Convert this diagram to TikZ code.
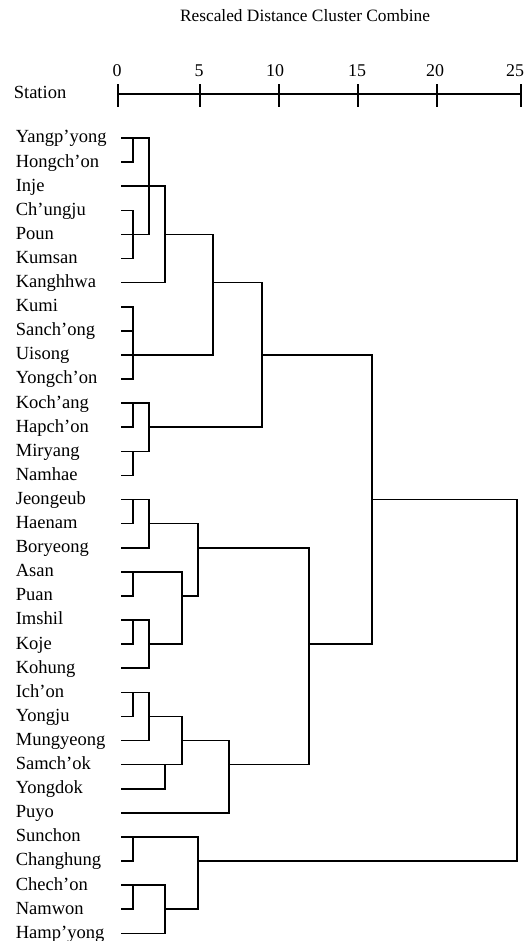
\documentclass[tikz,border=0pt]{standalone}
\usepackage{fontspec}
\setmainfont{Liberation Serif}

\tikzset{
    leaf/.style={anchor=west, inner sep=0pt, text height=7pt, text depth=2pt,
        font=\fontsize{9.3}{11}\selectfont},
    num/.style={inner sep=0pt, font=\fontsize{9}{11}\selectfont},
    heading/.style={inner sep=0pt, font=\fontsize{8.7}{10}\selectfont}
}

\begin{document}
\begin{tikzpicture}[x=0.5bp, y=-0.5bp, line width=0.8pt]
        \useasboundingbox (0,0) rectangle (525,941);
        \node[heading] (caption) at (305,16) {Rescaled Distance Cluster Combine};
        \node[leaf] (station) at (13,94) {Station};
        \coordinate (a0) at (118,94);
        \coordinate (a25) at (521,94);
        \draw (a0) -- (a25);
        \foreach \x/\lab in {118/0, 200/5, 279/10, 358/15, 437/20, 521/25}
            \draw (\x,84) -- (\x,107);
        \foreach \x/\lab in {117/0, 199/5, 275/10, 357/15, 435/20, 515/25}
            \node[num] (n\lab) at (\x,71) {\lab};
        \node[leaf] (yangpyong) at (15,138) {Yangp'yong};
        \node[leaf] (hongchon) at (15,162.1) {Hongch'on};
        \node[leaf] (inje) at (15,186.2) {Inje};
        \node[leaf] (chungju) at (15,210.3) {Ch'ungju};
        \node[leaf] (poun) at (15,234.4) {Poun};
        \node[leaf] (kumsan) at (15,258.5) {Kumsan};
        \node[leaf] (kanghhwa) at (15,282.6) {Kanghhwa};
        \node[leaf] (kumi) at (15,306.7) {Kumi};
        \node[leaf] (sanchong) at (15,330.8) {Sanch'ong};
        \node[leaf] (uisong) at (15,354.9) {Uisong};
        \node[leaf] (yongchon) at (15,379) {Yongch'on};
        \node[leaf] (kochang) at (15,403.1) {Koch'ang};
        \node[leaf] (hapchon) at (15,427.2) {Hapch'on};
        \node[leaf] (miryang) at (15,451.3) {Miryang};
        \node[leaf] (namhae) at (15,475.4) {Namhae};
        \node[leaf] (jeongeub) at (15,499.5) {Jeongeub};
        \node[leaf] (haenam) at (15,523.6) {Haenam};
        \node[leaf] (boryeong) at (15,547.7) {Boryeong};
        \node[leaf] (asan) at (15,571.8) {Asan};
        \node[leaf] (puan) at (15,595.9) {Puan};
        \node[leaf] (imshil) at (15,620) {Imshil};
        \node[leaf] (koje) at (15,644.1) {Koje};
        \node[leaf] (kohung) at (15,668.2) {Kohung};
        \node[leaf] (ichon) at (15,692.3) {Ich'on};
        \node[leaf] (yongju) at (15,716.4) {Yongju};
        \node[leaf] (mungyeong) at (15,740.5) {Mungyeong};
        \node[leaf] (samchok) at (15,764.6) {Samch'ok};
        \node[leaf] (yongdok) at (15,788.7) {Yongdok};
        \node[leaf] (puyo) at (15,812.8) {Puyo};
        \node[leaf] (sunchon) at (15,836.9) {Sunchon};
        \node[leaf] (changhung) at (15,861) {Changhung};
        \node[leaf] (chechon) at (15,885.1) {Chech'on};
        \node[leaf] (namwon) at (15,909.2) {Namwon};
        \node[leaf] (hampyong) at (15,933.3) {Hamp'yong};
        \coordinate (k0) at (121,0);
        \coordinate (k1) at (133,0);
        \coordinate (k2) at (149,0);
        \coordinate (k3) at (165,0);
        \coordinate (k4) at (182,0);
        \coordinate (k5) at (198,0);
        \coordinate (k6) at (213,0);
        \coordinate (k7) at (229,0);
        \coordinate (k9) at (262,0);
        \coordinate (k12) at (309,0);
        \coordinate (k16) at (372,0);
        \coordinate (k25) at (517,0);
        \draw (yangpyong -| k0) -| (poun -| k2) -- (poun -| k0);
        \draw (hongchon -| k0) -| (yangpyong -| k1);
        \draw (chungju -| k0) -| (kumsan -| k1) -- (kumsan -| k0);
        \draw (inje -| k0) -| (kanghhwa -| k3) -- (kanghhwa -| k0);
        \draw (poun -| k3) -| (uisong -| k6) -- (uisong -| k0);
        \draw (kumi -| k0) -| (yongchon -| k1) -- (yongchon -| k0);
        \draw (sanchong -| k0) -- (sanchong -| k1);
        \draw (kanghhwa -| k6) -| (hapchon -| k9) -- (hapchon -| k2);
        \draw (kochang -| k0) -| (miryang -| k2) -- (miryang -| k0);
        \draw (hapchon -| k0) -| (kochang -| k1);
        \draw (namhae -| k0) -| (miryang -| k1);
        \draw (uisong -| k9) -| (koje -| k16) -- (koje -| k12);
        \draw (jeongeub -| k0) -| (boryeong -| k2) -- (boryeong -| k0);
        \draw (haenam -| k0) -| (jeongeub -| k1);
        \draw (haenam -| k2) -| (puan -| k5) -- (puan -| k4);
        \draw (asan -| k0) -| (koje -| k4) -- (koje -| k2);
        \draw (puan -| k0) -| (asan -| k1);
        \draw (imshil -| k0) -| (kohung -| k2) -- (kohung -| k0);
        \draw (koje -| k0) -| (imshil -| k1);
        \draw (boryeong -| k5) -| (samchok -| k12) -- (samchok -| k7);
        \draw (ichon -| k0) -| (mungyeong -| k2) -- (mungyeong -| k0);
        \draw (yongju -| k0) -| (ichon -| k1);
        \draw (yongju -| k2) -| (samchok -| k4) -- (samchok -| k0);
        \draw (yongdok -| k0) -| (samchok -| k3);
        \draw (mungyeong -| k4) -| (puyo -| k7) -- (puyo -| k0);
        \draw (jeongeub -| k16) -| (changhung -| k25) -- (changhung -| k5);
        \draw (sunchon -| k0) -| (namwon -| k5) -- (namwon -| k3);
        \draw (changhung -| k0) -| (sunchon -| k1);
        \draw (chechon -| k0) -| (hampyong -| k3) -- (hampyong -| k0);
        \draw (namwon -| k0) -| (chechon -| k1);
    \end{tikzpicture}
\end{document}
